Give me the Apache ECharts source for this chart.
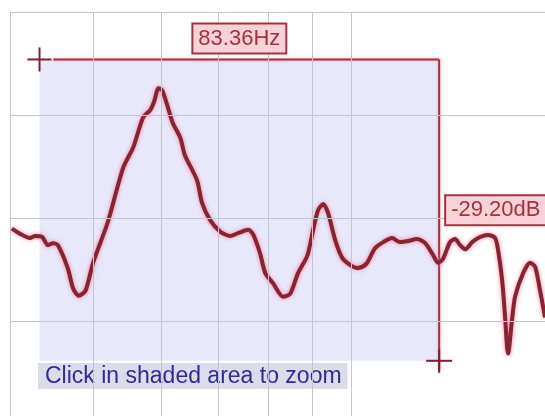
<!DOCTYPE html>
<html>
<head>
<meta charset="utf-8">
<script src="https://cdn.jsdelivr.net/npm/echarts@6/dist/echarts.min.js"></script>
<style>
html,body{margin:0;padding:0;background:#fff;}
#c{width:545px;height:416px;}
</style>
</head>
<body>
<div id="c"></div>
<script>
// Frequency response trace (Hz, dB)
const freqs = [40.2, 41.1, 42.2, 42.8, 43.6, 44.3, 44.9, 45.5, 46.7, 47.4, 48.1, 49.0, 50.0, 52.0, 54.2, 55.7, 57.2, 58.3, 58.9, 59.6,
  60.2, 61.0, 61.9, 63.2, 64.0, 66.1, 67.0, 68.5, 70.4, 72.3, 73.9, 75.9, 76.9, 78.3, 79.4, 81.1, 83.3, 84.9, 86.7, 88.9,
  90.3, 91.5, 92.8, 94.0, 95.8, 97.6, 99.7, 101.6, 103.0, 104.4, 106.6, 109.0, 111.6, 114.0, 116.5, 119.4, 122.0, 124.3, 126.3, 128.0,
  130.4, 132.2, 134.0, 135.8, 138.4, 141.4, 144.4, 147.2, 148.4, 150.0, 151.2, 152.0, 152.4, 154.0, 155.3, 158.7, 161.7, 163.9, 166.1, 168.3];
const levels = [69.0, 68.5, 68.1, 68.3, 68.2, 67.4, 67.6, 67.4, 65.2, 63.2, 62.5, 63.0, 65.7, 69.6, 74.9, 76.9, 79.8, 80.5, 81.3, 82.6,
  82.4, 81.0, 79.3, 77.8, 76.1, 73.7, 71.5, 69.8, 68.7, 68.3, 68.6, 68.9, 68.4, 66.6, 64.7, 63.7, 62.4, 62.7, 64.7, 66.4,
  68.9, 70.8, 71.4, 70.5, 67.9, 66.2, 65.5, 65.2, 65.3, 65.7, 67.1, 67.7, 68.1, 67.7, 67.8, 68.0, 67.6, 66.6, 65.7, 66.1,
  67.7, 68.0, 67.4, 67.0, 67.7, 68.2, 68.4, 68.1, 66.9, 64.0, 60.4, 57.5, 56.9, 60.1, 62.4, 64.7, 65.7, 65.3, 63.0, 60.4];
// Grid positions
const gridFreqs = [50, 60, 70, 80, 90, 100];
const gridLevels = [60, 70, 80, 90];
// Visible axis window
const freqMin = 40, freqMax = 168.3;
const dbMin = 50.85, dbMax = 90;
// Cursor pair (Hz, dB)
const cursorFreq = [43.30, 126.66];
const cursorDb = [85.4, 56.2];
const hintText = 'Click in shaded area to zoom';

const curveData = freqs.map((f, i) => [f, levels[i]]);
const dF = (cursorFreq[1] - cursorFreq[0]).toFixed(2) + 'Hz';
const dDb = (cursorDb[1] - cursorDb[0]).toFixed(2) + 'dB';

const chart = echarts.init(document.getElementById('c'), null, {renderer: 'canvas'});
const FONT = '"Liberation Sans", Arial, sans-serif';
const RED = '#a8303c';
const GRID = '#c4c4cc';

chart.setOption({
  animation: false,
  backgroundColor: '#ffffff',
  grid: {left: 10, top: 12, right: 0, bottom: 0},
  xAxis: {
    type: 'log', logBase: 10, min: freqMin, max: freqMax,
    axisLabel: {show: false}, axisTick: {show: false}, axisLine: {show: false},
    splitLine: {show: false}
  },
  yAxis: {
    type: 'value', min: dbMin, max: dbMax,
    axisLabel: {show: false}, axisTick: {show: false},
    axisLine: {show: true, lineStyle: {color: GRID, width: 1}},
    splitLine: {show: false}
  },
  series: [
    {
      type: 'custom', z: 1, silent: true,
      data: [0],
      renderItem: function (params, api) {
        const p1 = api.coord([cursorFreq[0], cursorDb[0]]);
        const p2 = api.coord([cursorFreq[1], cursorDb[1]]);
        return {
          type: 'rect',
          shape: {x: p1[0], y: p1[1], width: p2[0] - p1[0], height: p2[1] - p1[1]},
          style: {fill: 'rgba(200,200,245,0.42)'}
        };
      }
    },
    {
      type: 'line', z: 2, data: [], silent: true,
      markLine: {
        silent: true, symbol: 'none', animation: false,
        label: {show: false},
        lineStyle: {color: GRID, width: 1, type: 'solid'},
        data: gridFreqs.map(f => ({xAxis: f})).concat(gridLevels.map(v => ({yAxis: v})))
      }
    },
    {
      type: 'custom', z: 3, silent: true,
      data: [0],
      renderItem: function (params, api) {
        const p1 = api.coord([cursorFreq[0], cursorDb[0]]);
        const p2 = api.coord([cursorFreq[1], cursorDb[1]]);
        const ls = {stroke: RED, lineWidth: 2, shadowColor: 'rgba(240,110,130,0.6)', shadowBlur: 3};
        const cs = {stroke: '#7a2030', lineWidth: 2};
        const L = 12;
        return {
          type: 'group',
          children: [
            {type: 'line', shape: {x1: p1[0] + 14, y1: p1[1], x2: p2[0], y2: p1[1]}, style: ls},
            {type: 'line', shape: {x1: p2[0], y1: p1[1], x2: p2[0], y2: p2[1] + 10}, style: ls},
            {type: 'line', shape: {x1: p1[0] - L, y1: p1[1], x2: p1[0] + L, y2: p1[1]}, style: cs},
            {type: 'line', shape: {x1: p1[0], y1: p1[1] - L, x2: p1[0], y2: p1[1] + L}, style: cs},
            {type: 'line', shape: {x1: p2[0] - L - 1, y1: p2[1], x2: p2[0] + L + 1, y2: p2[1]}, style: cs},
            {type: 'line', shape: {x1: p2[0], y1: p2[1] - L, x2: p2[0], y2: p2[1] + L}, style: cs}
          ]
        };
      }
    },
    {
      type: 'line', z: 4, silent: true,
      data: curveData,
      showSymbol: false, symbol: 'none', smooth: 0.25,
      lineStyle: {color: '#8a2232', width: 4, shadowColor: 'rgba(240,100,120,0.75)', shadowBlur: 4}
    },
    {
      type: 'custom', z: 5, silent: true,
      data: [0],
      renderItem: function (params, api) {
        const p1 = api.coord([cursorFreq[0], cursorDb[0]]);
        const p2 = api.coord([cursorFreq[1], cursorDb[1]]);
        const box = {
          fill: '#a8303c', font: '22px ' + FONT,
          backgroundColor: '#f7d3d8', borderColor: '#a8303c', borderWidth: 2,
          padding: [3, 5, 3, 5]
        };
        return {
          type: 'group',
          children: [
            {type: 'text', style: Object.assign({}, box, {
              text: dF, x: (p1[0] + p2[0]) / 2, y: p1[1] - 7, align: 'center', verticalAlign: 'bottom'})},
            {type: 'text', style: Object.assign({}, box, {
              text: dDb, x: p2[0] + 7, y: (p1[1] + p2[1]) / 2, align: 'left', verticalAlign: 'middle'})}
          ]
        };
      }
    }
  ],
  graphic: [
    {
      type: 'text', left: 38, top: 363, silent: true,
      style: {
        text: hintText, font: '23px ' + FONT, fill: '#2c2c9c',
        backgroundColor: '#dcdcea', padding: [2, 6, 1, 7]
      }
    }
  ]
});
</script>
</body>
</html>
